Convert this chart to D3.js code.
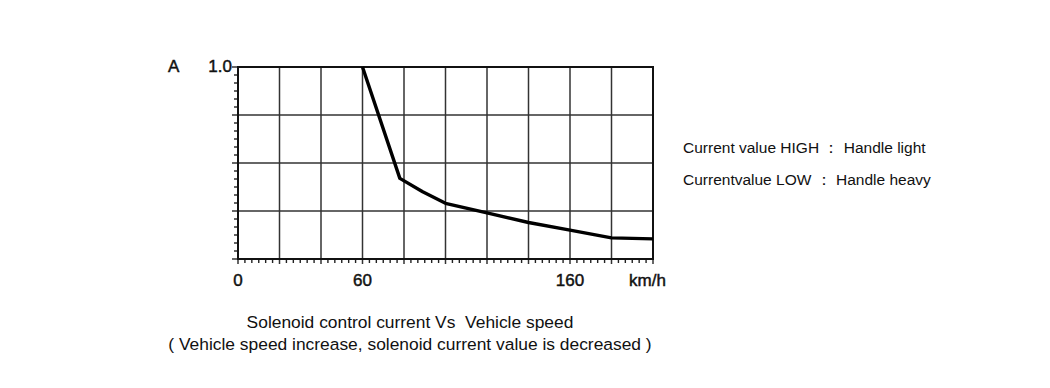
<!DOCTYPE html>
<html>
<head>
<meta charset="utf-8">
<script src="https://cdn.jsdelivr.net/npm/d3@7"></script>
<style>
  body { margin: 0; background: #fff; }
  text { font-family: "Liberation Sans", Arial, sans-serif; fill: #111; white-space: pre; }
  .axlab { stroke: #111; stroke-width: 0.45px; }
</style>
</head>
<body>
<svg id="chart" width="1050" height="388"></svg>
<script>
// vehicle speed (km/h) and solenoid current (A)
const speed = [60, 78, 89, 100, 120, 140, 160, 180, 200];
const current = [1.0, 0.42, 0.35, 0.29, 0.24, 0.19, 0.15, 0.11, 0.105];

// grid / tick values
const gridX = [0, 20, 40, 60, 80, 100, 120, 140, 160, 180, 200];
const gridY = [0, 0.25, 0.5, 0.75, 1.0];
const xLabels = [0, 60, 160];
const yLabels = [1.0];

const notes = ["Current value HIGH \uFF1A Handle light", "Currentvalue LOW \uFF1A Handle heavy"];
const captions = ["Solenoid control current Vs  Vehicle speed",
                  "( Vehicle speed increase, solenoid current value is decreased )"];

var svg = d3.select("#chart");
var plotL = 238, plotR = 653, plotT = 67, plotB = 259;

var xs = d3.scaleLinear().domain([0, 200]).range([plotL, plotR]);
var ys = d3.scaleLinear().domain([0, 1.0]).range([plotB, plotT]);

// minor ticks (6 per major step) on left and bottom axes
var minorX = [], minorY = [];
for (var i = 0; i < gridX.length - 1; i++) {
  for (var k = 1; k < 6; k++) minorX.push(gridX[i] + (gridX[i+1] - gridX[i]) * k / 6);
}
for (var j = 0; j < gridY.length - 1; j++) {
  for (var k = 1; k < 6; k++) minorY.push(gridY[j] + (gridY[j+1] - gridY[j]) * k / 6);
}

svg.append("g").selectAll("line").data(minorX).enter().append("line")
  .attr("x1", d => xs(d)).attr("x2", d => xs(d))
  .attr("y1", plotB).attr("y2", plotB + 4)
  .attr("stroke", "#222").attr("stroke-width", 1.4);
svg.append("g").selectAll("line").data(minorY).enter().append("line")
  .attr("y1", d => ys(d)).attr("y2", d => ys(d))
  .attr("x1", plotL - 4).attr("x2", plotL)
  .attr("stroke", "#222").attr("stroke-width", 1.4);

// grid lines (extend a little past the axes)
svg.append("g").selectAll("line").data(gridX).enter().append("line")
  .attr("x1", d => xs(d)).attr("x2", d => xs(d))
  .attr("y1", plotT).attr("y2", plotB + 5)
  .attr("stroke", "#333").attr("stroke-width", 1.5);
svg.append("g").selectAll("line").data(gridY).enter().append("line")
  .attr("y1", d => ys(d)).attr("y2", d => ys(d))
  .attr("x1", plotL - 6).attr("x2", plotR)
  .attr("stroke", "#333").attr("stroke-width", 1.5);

// frame
svg.append("rect")
  .attr("x", plotL).attr("y", plotT)
  .attr("width", plotR - plotL).attr("height", plotB - plotT)
  .attr("fill", "none").attr("stroke", "#111").attr("stroke-width", 2);

// the curve
svg.append("path")
  .datum(d3.zip(speed, current))
  .attr("fill", "none")
  .attr("stroke", "#000")
  .attr("stroke-width", 3.4)
  .attr("stroke-linejoin", "round")
  .attr("d", d3.line().x(d => xs(d[0])).y(d => ys(d[1])));

// axis labels
svg.append("g").selectAll("text").data(xLabels).enter().append("text")
  .attr("class", "axlab")
  .attr("x", d => xs(d)).attr("y", 286)
  .attr("text-anchor", "middle")
  .attr("font-size", "17px")
  .text(d => d);
svg.append("g").selectAll("text").data(yLabels).enter().append("text")
  .attr("class", "axlab")
  .attr("x", 232).attr("y", d => ys(d) + 5)
  .attr("text-anchor", "end")
  .attr("font-size", "17px")
  .text(d => d.toFixed(1));
svg.append("text").attr("class", "axlab").attr("x", 168).attr("y", 72)
  .attr("font-size", "17px").text("A");
svg.append("text").attr("class", "axlab").attr("x", 629).attr("y", 286)
  .attr("font-size", "17px").text("km/h");

// notes on the right
svg.append("g").selectAll("text").data(notes).enter().append("text")
  .attr("x", 683).attr("y", (d, i) => 153 + i * 32)
  .attr("font-size", "15.5px")
  .text(d => d);

// caption
svg.append("g").selectAll("text").data(captions).enter().append("text")
  .attr("x", 410).attr("y", (d, i) => 328 + i * 22)
  .attr("text-anchor", "middle")
  .attr("font-size", "17.4px")
  .text(d => d);
</script>
</body>
</html>
